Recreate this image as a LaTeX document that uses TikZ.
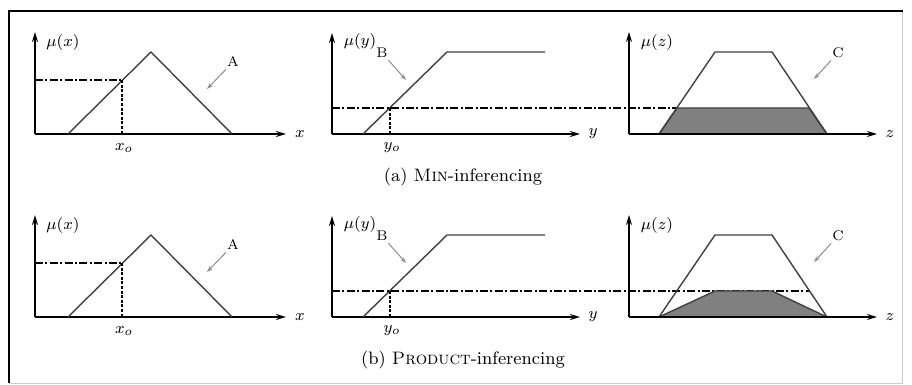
\documentclass[tikz,border=0pt]{standalone}
\usepackage{tikz}
\usetikzlibrary{arrows.meta}

\begin{document}
\begin{tikzpicture}[x=0.5pt, y=-0.5pt,
  font=\footnotesize,
  axis/.style={-{Stealth[length=5pt,width=3pt]}, line width=1.3pt},
  thinaxis/.style={-{Stealth[length=5pt,width=3pt]}, line width=0.7pt},
  mf/.style={draw=black!75, line width=0.7pt},
  cut/.style={line width=0.8pt, dash pattern=on 4pt off 1.2pt on 1pt off 1.2pt},
  drop/.style={line width=1.2pt, dash pattern=on 1.5pt off 0.8pt},
  pointer/.style={-{Stealth[length=3pt,width=2pt]}, draw=black!45, line width=0.5pt},
  tag/.style={font=\scriptsize, inner sep=1pt}]
  \useasboundingbox (0,0) rectangle (912,385);
  % frame
  \draw[black!20, line width=0.4pt] (902,11) -- (902,383) -- (9,383);
  \draw[line width=1.3pt] (9,383) -- (9,11) -- (903,11);
  \foreach \r/\off/\cutend/\tl/\tr/\cap in
    {a/0/677/677/809/{(a) \textsc{Min}-inferencing},
     b/183/810/715/772/{(b) \textsc{Product}-inferencing}}{
  \begin{scope}[shift={(0,\off)}]
    % input x
    \draw[axis] (35,134) -- (35,32);
    \draw[axis] (35,134) -- (286,134);
    \node (mux-\r) at (63,43) {$\mu(x)$};
    \node (x-\r) at (300,134) {$x$};
    \draw[mf] (68,134) -- (151,52) -- (232,134);
    \draw[cut] (35,80) -- (122,80);
    \draw[drop] (122,80) -- (122,134);
    \node (xo-\r) at (124,148) {$x_o$};
    \node[tag] (A-\r) at (233,62) {A};
    \coordinate (pa-\r) at (207,89);
    \draw[pointer] (A-\r) -- (pa-\r);
    % input y
    \draw[axis] (332,134) -- (332,33);
    \draw[axis] (332,134) -- (580,134);
    \node (muy-\r) at (360,42) {$\mu(y)$};
    \node (y-\r) at (593,134) {$y$};
    \draw[mf] (363,134) -- (447,52) -- (545,52);
    \draw[cut] (332,108) -- (\cutend,108);
    \draw[drop] (390,108) -- (390,134);
    \node (yo-\r) at (392,148) {$y_o$};
    \node[tag] (B-\r) at (382,53) {B};
    \coordinate (pb-\r) at (406,80);
    \draw[pointer] (B-\r) -- (pb-\r);
    % output z
    \filldraw[fill=black!50, draw=black!75, line width=0.7pt]
      (659,134) -- (\tl,108) -- (\tr,108) -- (827,134) -- cycle;
    \draw[mf] (659,134) -- (715,52) -- (772,52) -- (827,134);
    \draw[thinaxis] (629,134) -- (629,32);
    \draw[thinaxis] (629,134) -- (877,134);
    \node (muz-\r) at (657,43) {$\mu(z)$};
    \node (z-\r) at (890,134) {$z$};
    \node[tag] (C-\r) at (838,53) {C};
    \coordinate (pc-\r) at (814,79);
    \draw[pointer] (C-\r) -- (pc-\r);
    \node[font=\small] (cap-\r) at (463,177) {\cap};
  \end{scope}}
\end{tikzpicture}
\end{document}
